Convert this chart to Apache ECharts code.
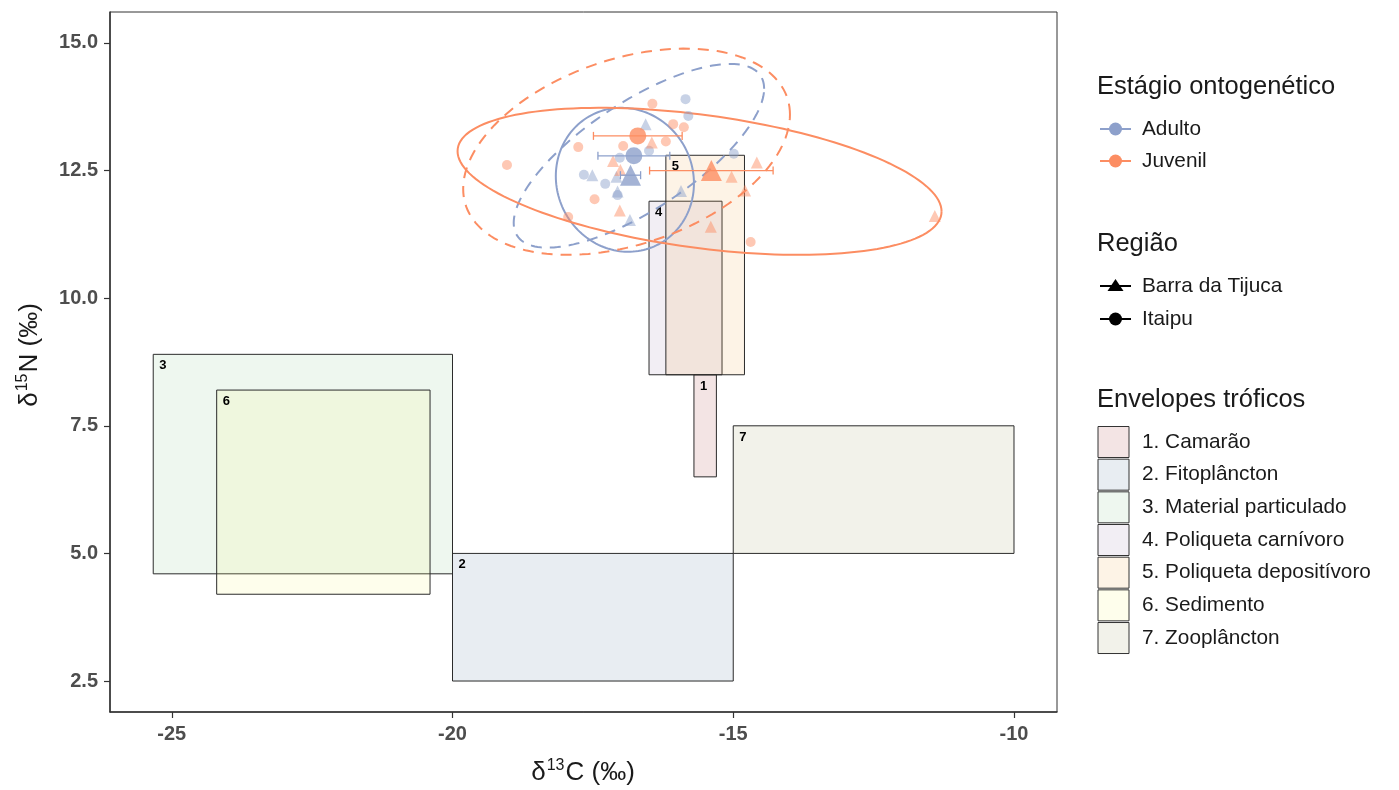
<!DOCTYPE html>
<html><head><meta charset="utf-8">
<script src="https://cdn.jsdelivr.net/npm/echarts@6/dist/echarts.min.js"></script>
<style>html,body{margin:0;padding:0;background:#fff}#c{width:1399px;height:790px}</style>
</head><body><div id="c"></div>
<script>
// ---- axis ticks ----
const xTicks = [-25, -20, -15, -10];
const yTicks = [2.5, 5, 7.5, 10, 12.5, 15];

// ---- trophic envelopes ----
const envelopeNames = ['1. Camarão', '2. Fitoplâncton', '3. Material particulado', '4. Poliqueta carnívoro', '5. Poliqueta depositívoro', '6. Sedimento', '7. Zooplâncton'];
const envelopeTags = ['1', '2', '3', '4', '5', '6', '7'];
const envelopeXmin = [-15.7, -20.0, -25.33, -16.5, -16.2, -24.2, -15.0];
const envelopeXmax = [-15.3, -15.0, -20.0, -15.2, -14.8, -20.4, -10.0];
const envelopeYmin = [6.5, 2.5, 4.6, 8.5, 8.5, 4.2, 5.0];
const envelopeYmax = [8.5, 5.0, 8.9, 11.9, 12.8, 8.2, 7.5];
const envelopeColors = ['rgba(175,75,75,0.15)', 'rgba(102,135,168,0.15)', 'rgba(142,202,148,0.15)', 'rgba(168,142,182,0.15)', 'rgba(242,175,88,0.15)', 'rgba(248,248,128,0.15)', 'rgba(168,168,115,0.15)'];

// ---- groups ----
const stages = ['Adulto', 'Juvenil'];
const stageColors = ['#8DA0CB', '#FC8D62'];
const stageLight = ['rgba(141,160,203,0.6)', 'rgba(252,141,98,0.6)'];
const regions = ['Barra da Tijuca', 'Itaipu'];

// ---- individual samples [δ13C, δ15N] ----
const adultoBarraPts = [[-16.56, 13.41], [-17.51, 12.41], [-17.08, 12.38], [-17.06, 12.09], [-15.93, 12.10], [-16.84, 11.53]];
const adultoItaipuPts = [[-15.85, 13.90], [-15.80, 13.57], [-16.50, 12.89], [-17.02, 12.75], [-17.66, 12.42], [-17.28, 12.24], [-17.06, 12.02], [-14.99, 12.83]];
const juvenilBarraPts = [[-16.45, 13.05], [-17.14, 12.69], [-17.01, 12.51], [-17.02, 11.72], [-15.03, 12.38], [-14.58, 12.66], [-14.79, 12.11], [-15.40, 11.40], [-11.41, 11.61]];
const juvenilItaipuPts = [[-19.03, 12.61], [-17.76, 12.96], [-16.96, 12.98], [-16.44, 13.81], [-16.07, 13.41], [-15.88, 13.35], [-16.20, 13.07], [-17.47, 11.94], [-17.94, 11.59], [-14.69, 11.10]];

// ---- group means with δ13C error ----
const meanStage = ['Adulto', 'Adulto', 'Juvenil', 'Juvenil'];
const meanRegion = ['Itaipu', 'Barra da Tijuca', 'Itaipu', 'Barra da Tijuca'];
const meanX = [-16.77, -16.83, -16.70, -15.39];
const meanY = [12.79, 12.41, 13.18, 12.50];
const meanXerr = [0.64, 0.18, 0.79, 1.10];

// ---- ellipses (centre, spread, correlation) ----
const ellStage = ['Adulto', 'Adulto', 'Juvenil', 'Juvenil'];
const ellRegion = ['Barra da Tijuca', 'Itaipu', 'Barra da Tijuca', 'Itaipu'];
const ellCX = [-16.93, -16.68, -15.60, -16.90];
const ellCY = [12.32, 12.79, 12.29, 12.87];
const ellSX = [1.23, 2.23, 4.31, 2.91];
const ellSY = [1.41, 1.80, 1.44, 2.02];
const ellRho = [-0.05, 0.73, -0.41, 0.36];

const FONT = "'Liberation Sans', Arial, sans-serif";
const colorOf = s => stageColors[stages.indexOf(s)];

const chart = echarts.init(document.getElementById('c'), null, {renderer: 'canvas'});

const series = [];

// envelopes
series.push({
  type: 'custom', z: 1, clip: true,
  data: envelopeXmin.map((x, i) => [x, envelopeYmin[i], envelopeXmax[i], envelopeYmax[i]]),
  encode: {x: [0, 2], y: [1, 3]},
  renderItem: (params, api) => {
    const i = params.dataIndex;
    const p1 = api.coord([envelopeXmin[i], envelopeYmax[i]]);
    const p2 = api.coord([envelopeXmax[i], envelopeYmin[i]]);
    return {
      type: 'group', children: [
        {type: 'rect', shape: {x: p1[0], y: p1[1], width: p2[0] - p1[0], height: p2[1] - p1[1]},
         style: {fill: envelopeColors[i], stroke: '#2b2b2b', lineWidth: 1}},
        {type: 'text', z2: 10, style: {text: envelopeTags[i], x: p1[0] + 6, y: p1[1] + 5, font: 'bold 13px ' + FONT, fill: '#000'}}
      ]
    };
  }
});

// ellipses
series.push({
  type: 'custom', z: 2, clip: true,
  data: ellCX.map((x, i) => [x, ellCY[i]]),
  renderItem: (params, api) => {
    const i = params.dataIndex;
    const r = ellRho[i], s = Math.sqrt(1 - r * r);
    const pts = [];
    for (let k = 0; k <= 160; k++) {
      const t = 2 * Math.PI * k / 160;
      pts.push(api.coord([ellCX[i] + ellSX[i] * Math.cos(t), ellCY[i] + ellSY[i] * (r * Math.cos(t) + s * Math.sin(t))]));
    }
    return {type: 'polyline', shape: {points: pts},
      style: {stroke: colorOf(ellStage[i]), lineWidth: 2, fill: null, lineDash: ellRegion[i] === 'Itaipu' ? [11, 8] : null}};
  }
});

// individual points
const groups = [
  [adultoItaipuPts, 0, 'circle'], [adultoBarraPts, 0, 'triangle'],
  [juvenilItaipuPts, 1, 'circle'], [juvenilBarraPts, 1, 'triangle']
];
groups.forEach(([pts, si, sym]) => {
  series.push({type: 'scatter', z: 3, data: pts, symbol: sym, symbolSize: sym === 'circle' ? 10 : 12,
    itemStyle: {color: stageLight[si]}, silent: true});
});

// error bars
series.push({
  type: 'custom', z: 4,
  data: meanX.map((x, i) => [x, meanY[i]]),
  renderItem: (params, api) => {
    const i = params.dataIndex;
    const a = api.coord([meanX[i] - meanXerr[i], meanY[i]]);
    const b = api.coord([meanX[i] + meanXerr[i], meanY[i]]);
    const c = colorOf(meanStage[i]);
    const st = {stroke: c, lineWidth: 1.3};
    return {type: 'group', children: [
      {type: 'line', shape: {x1: a[0], y1: a[1], x2: b[0], y2: b[1]}, style: st},
      {type: 'line', shape: {x1: a[0], y1: a[1] - 4, x2: a[0], y2: a[1] + 4}, style: st},
      {type: 'line', shape: {x1: b[0], y1: b[1] - 4, x2: b[0], y2: b[1] + 4}, style: st}
    ]};
  }
});

// means
meanX.forEach((x, i) => {
  const tri = meanRegion[i] === 'Barra da Tijuca';
  series.push({type: 'scatter', z: 5, data: [[x, meanY[i]]], symbol: tri ? 'triangle' : 'circle',
    symbolSize: tri ? 21 : 17, itemStyle: {color: colorOf(meanStage[i])}, silent: true});
});

// legend graphics
const g = [];
const T = (text, x, y, size) => ({type: 'text', style: {text, x, y, font: size + 'px ' + FONT, fill: '#1a1a1a', verticalAlign: 'middle'}});
g.push(T('Estágio ontogenético', 1097, 87, 25.5));
stages.forEach((s, i) => {
  const y = [129, 161][i];
  g.push({type: 'line', shape: {x1: 1100, y1: y, x2: 1131, y2: y}, style: {stroke: stageColors[i], lineWidth: 2}});
  g.push({type: 'circle', shape: {cx: 1115.5, cy: y, r: 6.5}, style: {fill: stageColors[i]}});
  g.push(T(s, 1142, y, 20.8));
});
g.push(T('Região', 1097, 244, 25.5));
regions.forEach((r, i) => {
  const y = [286, 319][i];
  g.push({type: 'line', shape: {x1: 1100, y1: y, x2: 1131, y2: y}, style: {stroke: '#000', lineWidth: 2}});
  if (i === 0) g.push({type: 'polygon', shape: {points: [[1115.5, y - 7], [1123.5, y + 5], [1107.5, y + 5]]}, style: {fill: '#000'}});
  else g.push({type: 'circle', shape: {cx: 1115.5, cy: y, r: 6.5}, style: {fill: '#000'}});
  g.push(T(r, 1142, y, 20.8));
});
g.push(T('Envelopes tróficos', 1097, 400, 25.5));
envelopeNames.forEach((n, i) => {
  const y = 442 + i * 32.67;
  g.push({type: 'rect', shape: {x: 1098, y: y - 15.5, width: 31, height: 31}, style: {fill: envelopeColors[i], stroke: '#333', lineWidth: 1}});
  g.push(T(n, 1142, y, 20.8));
});
// axis titles
const titleRich = {a: {font: '26px ' + FONT, fill: '#1a1a1a'}, s: {font: '16px ' + FONT, fill: '#1a1a1a', padding: [0, 1, 14, 1]}};
g.push({type: 'text', style: {text: '{a|δ}{s|13}{a|C (‰)}', x: 583, y: 773, align: 'center', verticalAlign: 'middle', rich: titleRich}});
g.push({type: 'text', rotation: Math.PI / 2, x: 30, y: 355, style: {text: '{a|δ}{s|15}{a|N (‰)}', x: 0, y: 0, align: 'center', verticalAlign: 'middle', rich: titleRich}});

chart.setOption({
  animation: false,
  backgroundColor: '#fff',
  grid: {left: 110, top: 12, width: 947, height: 700, show: true, borderColor: '#333', borderWidth: 1, backgroundColor: 'transparent'},
  xAxis: {type: 'value', min: -26.10, max: -9.234,
    axisLine: {show: true, onZero: false, lineStyle: {color: '#333', width: 1.5}},
    axisTick: {show: true, customValues: xTicks, length: 6, lineStyle: {color: '#333', width: 1.2}},
    axisLabel: {customValues: xTicks, color: '#4d4d4d', fontWeight: 'bold', fontSize: 20, fontFamily: FONT, margin: 12},
    splitLine: {show: false}},
  yAxis: {type: 'value', min: 1.893, max: 15.607,
    axisLine: {show: true, onZero: false, lineStyle: {color: '#333', width: 1.5}},
    axisTick: {show: true, customValues: yTicks, length: 6, lineStyle: {color: '#333', width: 1.2}},
    axisLabel: {customValues: yTicks, color: '#4d4d4d', fontWeight: 'bold', fontSize: 20, fontFamily: FONT, margin: 12, formatter: v => v.toFixed(1)},
    splitLine: {show: false}},
  series,
  graphic: g
});
</script></body></html>
